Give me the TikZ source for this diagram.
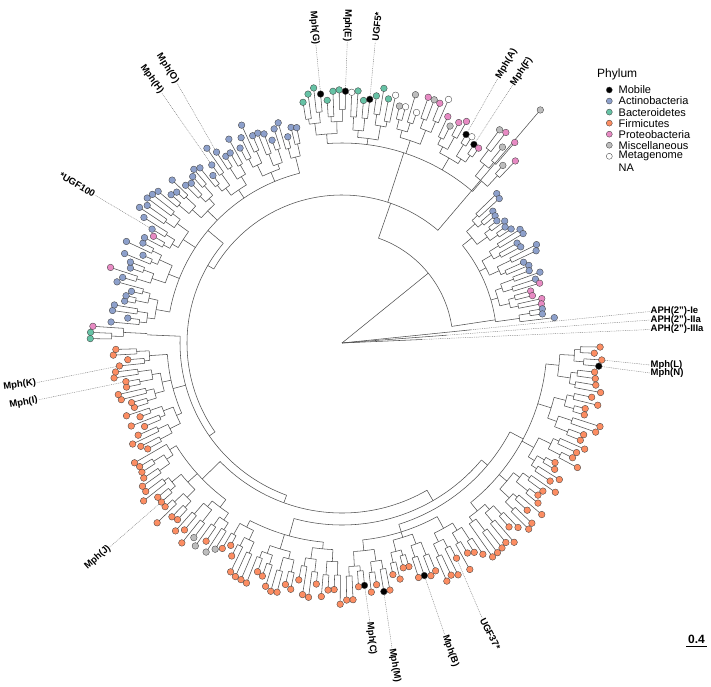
\documentclass[tikz,border=0pt]{standalone}
\usepackage{fontspec}
\setmainfont{Liberation Sans}
\definecolor{cK}{HTML}{000000}
\definecolor{cA}{HTML}{8DA0CB}
\definecolor{cB}{HTML}{66C2A5}
\definecolor{cF}{HTML}{FC8D62}
\definecolor{cP}{HTML}{E78AC3}
\definecolor{cM}{HTML}{BDBDBD}
\definecolor{cW}{HTML}{FFFFFF}
\definecolor{brc}{HTML}{505050}
\tikzset{
 branch/.style={draw=brc,line width=0.55pt},
 tipdot/.style={circle,draw=black!75,line width=0.35pt,minimum size=6.6pt,inner sep=0pt},
 labline/.style={draw=black!50,line width=0.45pt,dash pattern=on 0.9pt off 0.9pt},
 lab/.style={font=\bfseries\fontsize{9.5}{10}\selectfont,inner sep=0.5pt},
 legtxt/.style={font=\fontsize{11}{12}\selectfont,anchor=west,inner sep=0pt},
 legdot/.style={circle,draw=black!75,line width=0.35pt,minimum size=6pt,inner sep=0pt},
}
\newcommand\hashv[2]{frac(abs(sin((#1)*13.7+#2))*97.31)}
\newcommand\zgetRo[1]{\pgfmathsetmacro\zRo{\cR+\cSt+\cRa*\hashv{\cOff+8*#1}{17}}}
\newcommand\zgetRq[1]{\pgfmathtruncatemacro\zTmo{floor(#1/2)}\zgetRo{\zTmo}\pgfmathsetmacro\zRq{\zRo+\cSt+\cRa*\hashv{\cOff+4*#1}{118.3}}}
\newcommand\zgetRp[1]{\pgfmathtruncatemacro\zTmq{floor(#1/2)}\zgetRq{\zTmq}\pgfmathsetmacro\zRp{\zRq+\cSt+\cRa*\hashv{\cOff+2*#1}{219.6}}}
\newcommand\zgetRt[1]{\pgfmathtruncatemacro\zTmp{floor(#1/2)}\zgetRp{\zTmp}\pgfmathsetmacro\zRt{\zRp+2*\cSt+2*\cRa*\hashv{\cOff+#1}{320.9}}}
\newcommand\zgetTp[1]{\pgfmathsetmacro\zTp{\cS-\cD*(2*#1+min(2*#1+1,\cN-1))/2}}
\newcommand\zgetTq[1]{\pgfmathtruncatemacro\zTPa{2*#1}\pgfmathtruncatemacro\zTPb{min(2*#1+1,\cNP-1)}\zgetTp{\zTPa}\let\zTpA\zTp\zgetTp{\zTPb}\pgfmathsetmacro\zTq{(\zTpA+\zTp)/2}}
\newcommand\zgetTo[1]{\pgfmathtruncatemacro\zTQa{2*#1}\pgfmathtruncatemacro\zTQb{min(2*#1+1,\cNQ-1)}\zgetTq{\zTQa}\let\zTqA\zTq\zgetTq{\zTQb}\pgfmathsetmacro\zTo{(\zTqA+\zTq)/2}}
% #1 start angle, #2 step, #3 tips, #4 clade radius, #5 offset, #6 step, #7 random, #8 colours
\newcommand\clade[8]{%
 \def\cS{#1}\def\cD{#2}\def\cN{#3}\def\cR{#4}\def\cOff{#5}\def\cSt{#6}\def\cRa{#7}%
 \pgfmathtruncatemacro\cNP{ceil(#3/2)}%
 \pgfmathtruncatemacro\cNQ{ceil(\cNP/2)}%
 \pgfmathtruncatemacro\cNO{ceil(\cNQ/2)}%
 \pgfmathtruncatemacro\cLO{\cNO-1}%
 \pgfmathtruncatemacro\cLQ{\cNQ-1}%
 \pgfmathtruncatemacro\cLP{\cNP-1}%
 \zgetTo{0}\let\zFirst\zTo
 \zgetTo{\cLO}\let\zLast\zTo
 \draw[branch] (\zFirst:\cR pt) arc[start angle=\zFirst,end angle=\zLast,radius=\cR pt];
 \foreach \zo in {0,...,\cLO}{%
  \zgetTo{\zo}\zgetRo{\zo}%
  \draw[branch] (\zTo:\cR pt) -- (\zTo:\zRo pt);
  \pgfmathtruncatemacro\zqa{2*\zo}\pgfmathtruncatemacro\zqb{min(2*\zo+1,\cLQ)}%
  \zgetTq{\zqa}\let\zA\zTq\zgetTq{\zqb}%
  \draw[branch] (\zA:\zRo pt) arc[start angle=\zA,end angle=\zTq,radius=\zRo pt];
 }%
 \foreach \zq in {0,...,\cLQ}{%
  \zgetTq{\zq}\zgetRq{\zq}%
  \draw[branch] (\zTq:\zRo pt) -- (\zTq:\zRq pt);
  \pgfmathtruncatemacro\zpa{2*\zq}\pgfmathtruncatemacro\zpb{min(2*\zq+1,\cLP)}%
  \zgetTp{\zpa}\let\zA\zTp\zgetTp{\zpb}%
  \draw[branch] (\zA:\zRq pt) arc[start angle=\zA,end angle=\zTp,radius=\zRq pt];
 }%
 \foreach \zp in {0,...,\cLP}{%
  \zgetTp{\zp}\zgetRp{\zp}%
  \draw[branch] (\zTp:\zRq pt) -- (\zTp:\zRp pt);
  \pgfmathtruncatemacro\zta{2*\zp}\pgfmathtruncatemacro\ztb{min(2*\zp+1,\cN-1)}%
  \pgfmathsetmacro\zA{\cS-\cD*\zta}\pgfmathsetmacro\zB{\cS-\cD*\ztb}%
  \draw[branch] (\zA:\zRp pt) arc[start angle=\zA,end angle=\zB,radius=\zRp pt];
 }%
 \foreach \zc [count=\zi from 0] in {#8}{%
  \pgfmathsetmacro\zA{\cS-\cD*\zi}\zgetRt{\zi}%
  \pgfmathtruncatemacro\zkk{\cOff+\zi}%
  \draw[branch] (\zA:\zRp pt) -- (\zA:\zRt pt);
  \node[tipdot,fill=c\zc] (t\zkk) at (\zA:\zRt pt) {};
 }%
}
\begin{document}
\begin{tikzpicture}[x=1pt,y=1pt]
\useasboundingbox (0,0) rectangle (711,686);
\begin{scope}[shift={(342,343)}]
% backbone
\draw[branch] (0,0) -- (39:111pt);
\draw[branch] (8.6:111pt) arc[start angle=8.6,end angle=70.8,radius=111pt];
\draw[branch] (8.6:111pt) -- (8.6:155pt);
\draw[branch] (70.8:111pt) -- (70.8:148pt);
\draw[branch] (49.6:148pt) arc[start angle=49.6,end angle=150,radius=148pt];
\draw[branch] (72:148pt) -- (72:200pt);
\draw[branch] (150:148pt) -- (150:155pt);
\draw[branch] (140:155pt) arc[start angle=140,end angle=215,radius=155pt];
\draw[branch] (140:155pt) -- (140:175pt);
\draw[branch] (215:155pt) -- (215:162pt);
\draw[branch] (177.6:162pt) arc[start angle=177.6,end angle=250,radius=162pt];
\draw[branch] (177.6:162pt) -- (177.6:195pt);
\draw[branch] (195.1:162pt) -- (195.1:175pt);
\draw[branch] (250:162pt) -- (250:170pt);
\draw[branch] (224.2:170pt) arc[start angle=224.2,end angle=300,radius=170pt];
\draw[branch] (224.2:170pt) -- (224.2:195pt);
\draw[branch] (300:170pt) -- (300:182pt);
\draw[branch] (254.7:182pt) arc[start angle=254.7,end angle=320,radius=182pt];
\draw[branch] (254.7:182pt) -- (254.7:200pt);
\draw[branch] (320:182pt) -- (320:190pt);
\draw[branch] (287.4:190pt) arc[start angle=287.4,end angle=332.1,radius=190pt];
\draw[branch] (287.4:190pt) -- (287.4:198pt);
\draw[branch] (332.1:190pt) -- (332.1:205pt);
% lone long branch
\draw[branch] (49.6:148pt) -- (49.6:306pt);
\node[tipdot,fill=cM] (tlone) at (49.6:306pt) {};
% APH branches
\coordinate (a1) at (5.84:130pt);
\coordinate (a2) at (4.27:105pt);
\coordinate (a3) at (2.5:80pt);
\draw[branch] (0,0) -- (a1);
\draw[branch] (0,0) -- (a2);
\draw[branch] (0,0) -- (a3);
% clades
\clade{99.2}{1.427}{38}{200}{0}{5}{10}{B,B,B,K,B,B,B,K,W,B,B,K,B,B,B,W,M,W,M,W,P,M,P,W,P,M,P,P,K,W,K,P,M,P,M,P,M,P}
\clade{44}{1.43}{27}{155}{100}{5}{10}{A,A,A,A,A,A,A,A,A,A,A,A,A,A,A,A,A,A,A,P,P,P,P,P,A,A,A}
\clade{-0.9}{1.42}{39}{205}{140}{5}{10}{F,F,F,K,F,F,F,F,F,F,F,F,F,F,F,F,F,F,F,F,F,F,F,F,F,F,F,F,F,F,F,F,F,F,F,F,F,F,F}
\clade{-56.3}{1.42}{24}{198}{190}{5}{10}{F,F,F,F,F,F,F,F,F,F,K,F,F,F,F,F,F,K,F,F,K,F,F,F}
\clade{-90.4}{1.42}{22}{200}{220}{5}{10}{F,F,F,F,F,F,F,F,F,F,F,F,F,F,F,F,F,F,F,F,F,F}
\clade{-121.6}{1.42}{21}{195}{250}{5}{10}{M,M,F,M,M,F,F,F,F,F,F,F,F,F,F,F,F,F,F,F,F}
\clade{-151.4}{1.42}{20}{175}{280}{5}{10}{F,F,F,F,F,F,F,F,F,F,F,F,F,F,F,F,F,F,F,F}
\clade{179}{1.42}{3}{195}{410}{5}{10}{B,B,P}
\clade{174.8}{1.43}{52}{175}{300}{5}{10}{A,A,A,A,A,A,A,A,A,P,A,A,A,A,A,A,A,P,A,A,A,A,A,A,A,A,A,A,A,A,A,A,A,A,A,A,A,A,A,A,A,A,A,A,A,A,A,A,A,A,A,A}
% labels
\node[lab,anchor=east,rotate=-85] (lG) at (95:299pt) {Mph(G)};
\draw[labline] (t3) -- (lG.east);
\node[lab,anchor=east,rotate=-91] (lE) at (89:301pt) {Mph(E)};
\draw[labline] (t7) -- (lE.east);
\node[lab,anchor=west,rotate=83.7] (lU5) at (83.7:303pt) {UGF5*};
\draw[labline] (t11) -- (lU5.west);
\node[lab,anchor=west,rotate=59.5] (lA) at (59.5:307pt) {Mph(A)};
\draw[labline] (t28) -- (lA.west);
\node[lab,anchor=west,rotate=56.5] (lF) at (56.5:309pt) {Mph(F)};
\draw[labline] (t30) -- (lF.west);
\node[lab,anchor=east,rotate=-54.2] (lH) at (125.8:308pt) {Mph(H)};
\draw[labline] (t334) -- (lH.east);
\node[lab,anchor=east,rotate=-57.6] (lO) at (122.4:308pt) {Mph(O)};
\draw[labline] (t336) -- (lO.east);
\node[lab,anchor=east,rotate=-30.9] (lU100) at (149.1:288pt) {*UGF100};
\draw[labline] (t318) -- (lU100.east);
\node[lab,anchor=east,rotate=7.4] (lK) at (187.4:308pt) {Mph(K)};
\draw[labline] (t296) -- (lK.east);
\node[lab,anchor=east,rotate=10.6] (lI) at (190.6:309pt) {Mph(I)};
\draw[labline] (t293) -- (lI.east);
\node[lab,anchor=east,rotate=41.3] (lJ) at (221.3:309pt) {Mph(J)};
\draw[labline] (t262) -- (lJ.east);
\node[lab,anchor=west,rotate=-84.3] (lC) at (-84.3:280pt) {Mph(C)};
\draw[labline] (t210) -- (lC.west);
\node[lab,anchor=west,rotate=-80.7] (lM) at (-80.7:309pt) {Mph(M)};
\draw[labline] (t207) -- (lM.west);
\node[lab,anchor=west,rotate=-70.6] (lB) at (-70.6:309.6pt) {Mph(B)};
\draw[labline] (t200) -- (lB.west);
\node[lab,anchor=west,rotate=-63] (lU37) at (-63:308.6pt) {UGF37*};
\draw[labline] (t194) -- (lU37.west);
\node[lab,anchor=west] (lL) at (308,-22) {Mph(L)};
\draw[labline] (t142) -- (lL.west);
\node[lab,anchor=west] (lN) at (308,-30) {Mph(N)};
\draw[labline] (t143) -- (lN.west);
\node[lab,anchor=west] (lAPH1) at (308,31.5) {APH(2")-Ie};
\node[lab,anchor=west] (lAPH2) at (308,23) {APH(2")-IIa};
\node[lab,anchor=west] (lAPH3) at (308,13.5) {APH(2")-IIIa};
\draw[labline] (a1) -- (lAPH1.west);
\draw[labline] (a2) -- (lAPH2.west);
\draw[labline] (a3) -- (lAPH3.west);
\end{scope}
% legend
\node[font=\fontsize{12}{13}\selectfont,anchor=west,inner sep=0pt] (legtitle) at (597,612) {Phylum};
\foreach \nm/\cl [count=\n from 0] in {Mobile/cK,Actinobacteria/cA,Bacteroidetes/cB,Firmicutes/cF,Proteobacteria/cP,Miscellaneous/cM,Metagenome/cW}{
  \node[legdot,fill=\cl] (ld\n) at (609.3,{686-90-11.05*\n}) {};
  \node[legtxt] (lt\n) at (618.5,{686-90-11.05*\n}) {\nm};
}
\node[legtxt] (ltNA) at (618.5,{686-90-11.05*7}) {NA};
% scale bar
\node[font=\bfseries\fontsize{12}{13}\selectfont,inner sep=0pt] (sbl) at (696.5,47) {0.4};
\coordinate (sb1) at (686,39.5);
\coordinate (sb2) at (707,39.5);
\draw[line width=0.8pt] (sb1) -- (sb2);
\end{tikzpicture}
\end{document}
